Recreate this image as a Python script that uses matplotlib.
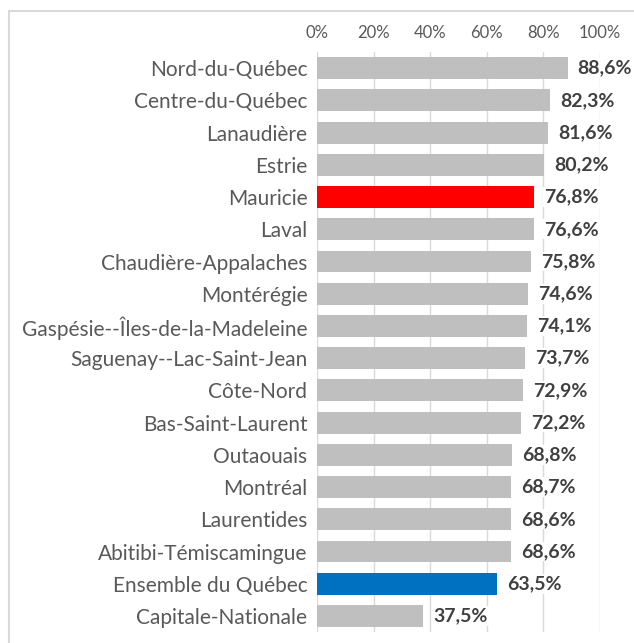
import matplotlib.pyplot as plt
from matplotlib.patches import Rectangle

regions = ["Nord-du-Québec", "Centre-du-Québec", "Lanaudière", "Estrie", "Mauricie",
           "Laval", "Chaudière-Appalaches", "Montérégie", "Gaspésie--Îles-de-la-Madeleine",
           "Saguenay--Lac-Saint-Jean", "Côte-Nord", "Bas-Saint-Laurent", "Outaouais",
           "Montréal", "Laurentides", "Abitibi-Témiscamingue", "Ensemble du Québec",
           "Capitale-Nationale"]
values = [88.6, 82.3, 81.6, 80.2, 76.8, 76.6, 75.8, 74.6, 74.1, 73.7, 72.9, 72.2,
          68.8, 68.7, 68.6, 68.6, 63.5, 37.5]
highlight = {"Mauricie": "#ff0000", "Ensemble du Québec": "#0070c0"}
ticks = [0, 20, 40, 60, 80, 100]

plt.rcParams['font.family'] = ['Lato', 'DejaVu Sans']

fig = plt.figure(figsize=(6.34, 6.43), dpi=100)
ax = fig.add_axes([0.5, 0.017, 0.446, 0.902])

colors = [highlight.get(r, "#bfbfbf") for r in regions]
pos = list(range(len(regions)))
ax.barh(pos, values, height=0.68, color=colors, zorder=2)
ax.set_ylim(len(regions) - 0.5, -0.5)
ax.set_xlim(0, 100)

ax.set_yticks(pos)
ax.set_yticklabels(regions, fontsize=15, color="#595959")
ax.set_xticks(ticks)
ax.set_xticklabels([f"{t}%" for t in ticks], fontsize=12, color="#595959")
ax.xaxis.tick_top()
ax.tick_params(length=0, pad=8)
ax.tick_params(axis='y', pad=7)
ax.grid(axis='x', color="#d9d9d9", linewidth=1, zorder=0)
for s in ax.spines.values():
    s.set_visible(False)

for p, v in zip(pos, values):
    ax.text(v + 3.6, p, f"{v:.1f}%".replace(".", ","), va='center', ha='left',
            fontsize=14, fontweight='bold', color="#404040", zorder=3,
            bbox=dict(facecolor='white', edgecolor='none', pad=1))

fig.patches.append(Rectangle((8.5 / 634, -0.1), 2, 1 - 10.5 / 643 + 0.1,
                             transform=fig.transFigure, fill=False,
                             edgecolor="#d9d9d9", linewidth=1.5))

fig.savefig("out.png", dpi=100)
